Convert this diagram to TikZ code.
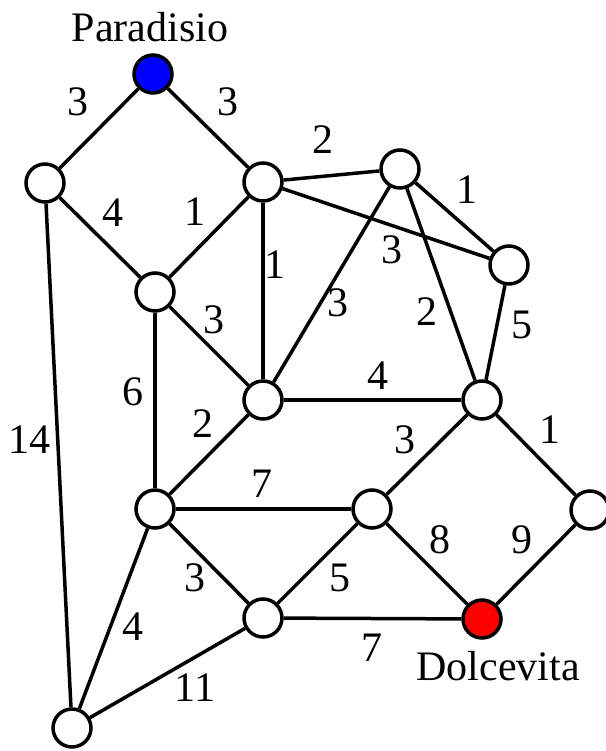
\documentclass[tikz,border=0pt]{standalone}
\usepackage{fontspec}
\setmainfont{Liberation Serif}
\newfontfamily\timesfont{Liberation Serif}
\begin{document}
\begin{tikzpicture}[
  x=1pt,y=-1pt,
  town/.style={circle,draw,line width=3.5pt,minimum size=38pt,inner sep=0pt,fill=white},
  road/.style={line width=3.5pt},
  wt/.style={font=\timesfont\fontsize{42}{50}\selectfont,inner sep=0pt},
]
\useasboundingbox (0,0) rectangle (605,751);
% towns
\node[town,fill=blue] (P) at (153,74) {};
\node[town] (A) at (45,183) {};
\node[town] (B) at (263,182) {};
\node[town] (C) at (400,169) {};
\node[town] (D) at (509,265) {};
\node[town] (E) at (155,292) {};
\node[town] (F) at (263,400) {};
\node[town] (G) at (482,400) {};
\node[town] (H) at (155,509) {};
\node[town] (I) at (372,509) {};
\node[town] (J) at (590,510) {};
\node[town] (K) at (263,618) {};
\node[town,fill=red] (L) at (482,619) {};
\node[town] (M) at (72,728) {};
\node[wt] (par) at (150,27) {Paradisio};
\node[wt] (dol) at (498,666) {Dolcevita};
% roads
\foreach \a/\b in {P/A,P/B,A/E,A/M,B/E,B/C,B/D,B/F,C/D,C/F,C/G,D/G,E/F,E/H,F/G,F/H,
  G/I,G/J,H/I,H/K,H/M,I/K,I/L,J/L,K/L,K/M}
  \draw[road] (\a) -- (\b);
% weights
\foreach \x/\y/\w in {78/102/3,228/102/3,113/213/4,195/212/1,323/140/2,467/190/1,
  392/250/3,275/265/1,338/303/3,427/312/2,522/325/5,214/320/3,133/392/6,378/376/4,
  203/424/2,405/440/3,550/430/1,262/484/7,440/540/8,522/540/9,195/578/3,133/627/4,
  195/688/11,340/578/5,372/648/7,30/440/14}
  \node[wt] at (\x,\y) {\w};
\end{tikzpicture}
\end{document}
